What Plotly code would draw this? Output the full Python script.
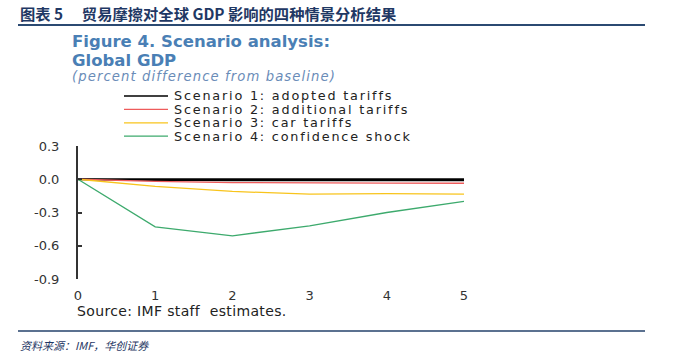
import plotly.graph_objects as go

years = [0, 1, 2, 3, 4, 5]
scenario_names = [
    "Scenario 1: adopted tariffs",
    "Scenario 2: additional tariffs",
    "Scenario 3: car tariffs",
    "Scenario 4: confidence shock",
]
s1 = [0.0, -0.01, -0.012, -0.013, -0.013, -0.013]
s2 = [0.0, -0.02, -0.03, -0.035, -0.035, -0.036]
s3 = [0.0, -0.065, -0.11, -0.135, -0.13, -0.135]
s4 = [0.0, -0.43, -0.51, -0.42, -0.30, -0.20]
series = [s1, s2, s3, s4]
colors = ["#000000", "#EE5B5B", "#F8C41C", "#3DAA6D"]
y_ticks = [0.3, 0.0, -0.3, -0.6, -0.9]

W, H = 673, 354
L, R, T, B = 78, 464, 146, 279

fig = go.Figure()
# zero baseline
fig.add_trace(go.Scatter(x=[years[0], years[-1]], y=[0, 0], mode="lines",
                         line=dict(color="#000000", width=2), showlegend=False,
                         hoverinfo="skip"))
for name, vals, c in zip(scenario_names, series, colors):
    fig.add_trace(go.Scatter(x=years, y=vals, mode="lines", name=name,
                             line=dict(color=c, width=1.3), showlegend=False))

shapes = []
annotations = []

def px(x):
    return (x - L) / (R - L)

def py(y):
    return (B - y) / (B - T)

def spaced(txt, ls):
    return f'<span style="letter-spacing:{ls}px">{txt}</span>'

# legend (manual)
leg_y0 = 96
for i, (name, c) in enumerate(zip(scenario_names, colors)):
    yy = leg_y0 + i * 13.4
    shapes.append(dict(type="line", xref="paper", yref="paper",
                       x0=px(124), x1=px(168), y0=py(yy), y1=py(yy),
                       line=dict(color=c, width=1.3)))
    annotations.append(dict(text=spaced(name, 1.8), xref="paper", yref="paper",
                            x=px(173), y=py(yy), xanchor="left", yanchor="middle",
                            showarrow=False, borderpad=0,
                            font=dict(family="DejaVu Sans", size=12.8, color="#222222")))

# decorative rules
shapes.append(dict(type="line", xref="paper", yref="paper", x0=px(18), x1=px(645),
                   y0=py(25), y1=py(25), line=dict(color="#2B4A72", width=2)))
shapes.append(dict(type="line", xref="paper", yref="paper", x0=px(18), x1=px(645),
                   y0=py(331), y1=py(331), line=dict(color="#5B7190", width=2)))

annotations += [
    dict(text="<b>图表 5　 贸易摩擦对全球 GDP 影响的四种情景分析结果</b>",
         xref="paper", yref="paper", x=px(18), y=py(13), xanchor="left", yanchor="middle",
         showarrow=False, font=dict(family="Noto Sans CJK SC", size=15.3, color="#1F3864")),
    dict(text="<b>Figure 4. Scenario analysis:</b>", xref="paper", yref="paper",
         x=px(71), y=py(41.5), xanchor="left", yanchor="middle", showarrow=False,
         borderpad=0,
         font=dict(family="DejaVu Sans", size=16.5, color="#4A7FB5")),
    dict(text="<b>Global GDP</b>", xref="paper", yref="paper",
         x=px(71), y=py(60.5), xanchor="left", yanchor="middle", showarrow=False,
         borderpad=0,
         font=dict(family="DejaVu Sans", size=16.5, color="#4A7FB5")),
    dict(text="<i>" + spaced("(percent difference from baseline)", 1.1) + "</i>",
         xref="paper", yref="paper",
         x=px(71), y=py(76.5), xanchor="left", yanchor="middle", showarrow=False,
         borderpad=0,
         font=dict(family="DejaVu Sans", size=13.2, color="#6A8CB8")),
    dict(text=spaced("Source: IMF staff  estimates.", 0.35), xref="paper", yref="paper",
         x=px(75), y=py(311), xanchor="left", yanchor="middle", showarrow=False,
         font=dict(family="DejaVu Sans", size=14, color="#222222")),
    dict(text="<i>资料来源：IMF，华创证券</i>", xref="paper", yref="paper",
         x=px(18), y=py(345), xanchor="left", yanchor="middle", showarrow=False,
         font=dict(family="Noto Sans CJK SC", size=11, color="#1F3864")),
]

fig.update_layout(
    width=W, height=H,
    margin=dict(l=L, r=W - R, t=T, b=H - B, pad=0),
    paper_bgcolor="white", plot_bgcolor="white",
    showlegend=False,
    shapes=shapes, annotations=annotations,
    xaxis=dict(range=[0, 5], tickvals=years, ticktext=[str(v) for v in years],
               showgrid=False, zeroline=False, showline=False, ticks="",
               ticklabelstandoff=7,
               tickfont=dict(family="DejaVu Sans", size=13, color="#333333")),
    yaxis=dict(range=[-0.9, 0.3], tickvals=y_ticks, ticktext=[f"{v:.1f}" for v in y_ticks],
               showgrid=False, zeroline=False, showline=True, linecolor="#333333",
               linewidth=2, ticks="inside", ticklen=4, tickwidth=2, tickcolor="#333333",
               ticklabelstandoff=14,
               tickfont=dict(family="DejaVu Sans", size=13, color="#333333")),
)

fig.write_html("out.html")
